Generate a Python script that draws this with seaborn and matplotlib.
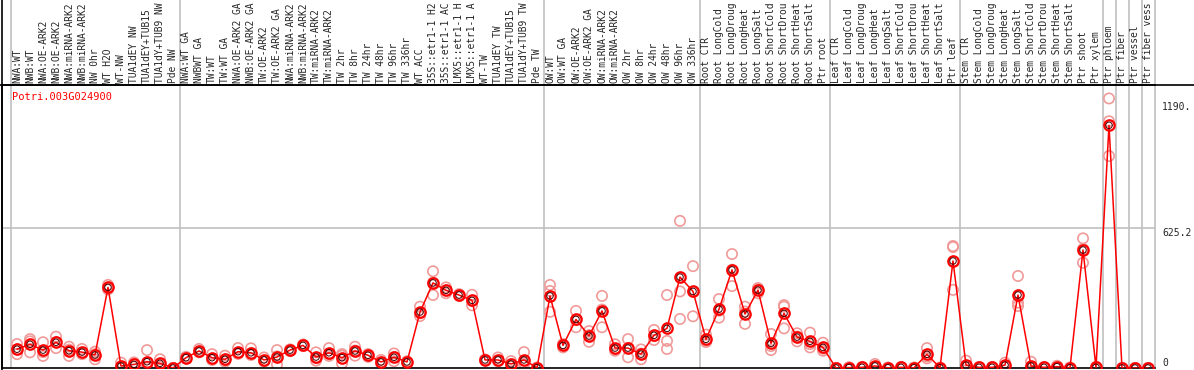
import pandas as pd
import matplotlib.pyplot as plt
import seaborn as sns
from matplotlib.lines import Line2D

gene = 'Potri.003G024900'

# sample labels as visible in the reference (long ones are cut at the top there)
samples = [
    'NWA:WT', 'NWB:WT', 'NWA:OE-ARK2', 'NWB:OE-ARK2', 'NWA:miRNA-ARK2', 'NWB:miRNA-ARK2',
    'NW 0hr', 'WT H2O', 'WT-NW', 'TUA1dEY NW', 'TUA1dEY+TUB15', 'TUA1dY+TUB9 NW', 'Pde NW',
    'NWA:WT GA', 'NWBWT GA', 'TW:WT', 'TW:WT GA', 'NWA:OE-ARK2 GA', 'NWB:OE-ARK2 GA',
    'TW:OE-ARK2', 'TW:OE-ARK2 GA', 'NWA:miRNA-ARK2', 'NWB:miRNA-ARK2', 'TW:miRNA-ARK2',
    'TW:miRNA-ARK2', 'TW 2hr', 'TW 8hr', 'TW 24hr', 'TW 48hr', 'TW 96hr', 'TW 336hr',
    'WT ACC', '35S::etr1-1 H2', '35S::etr1-1 AC', 'LMX5::etr1-1 H', 'LMX5::etr1-1 A',
    'WT-TW', 'TUA1dEY TW', 'TUA1dEY+TUB15', 'TUA1dY+TUB9 TW', 'Pde TW',
    'OW:WT', 'OW:WT GA', 'OW:OE-ARK2', 'OW:OE-ARK2 GA', 'OW:miRNA-ARK2', 'OW:miRNA-ARK2',
    'OW 2hr', 'OW 8hr', 'OW 24hr', 'OW 48hr', 'OW 96hr', 'OW 336hr',
    'Root CTR', 'Root LongCold', 'Root LongDroug', 'Root LongHeat', 'Root LongSalt',
    'Root ShortCold', 'Root ShortDrou', 'Root ShortHeat', 'Root ShortSalt', 'Ptr root',
    'Leaf CTR', 'Leaf LongCold', 'Leaf LongDroug', 'Leaf LongHeat', 'Leaf LongSalt',
    'Leaf ShortCold', 'Leaf ShortDrou', 'Leaf ShortHeat', 'Leaf ShortSalt', 'Ptr leaf',
    'Stem CTR', 'Stem LongCold', 'Stem LongDroug', 'Stem LongHeat', 'Stem LongSalt',
    'Stem ShortCold', 'Stem ShortDrou', 'Stem ShortHeat', 'Stem ShortSalt', 'Ptr shoot',
    'Ptr xylem', 'Ptr phloem', 'Ptr fiber', 'Ptr vessel', 'Ptr fiber vess',
]

mean_expr = [
    84, 106, 80, 115, 77, 71, 58, 360, 9, 16, 28, 21, 0,
    46, 76, 46, 39, 73, 68, 36, 49, 80, 101, 49, 68, 46, 76, 57, 27, 48, 27,
    250, 380, 347, 326, 302, 36, 36, 18, 36, 1,
    322, 101, 217, 143, 255, 89, 89, 62, 146, 177, 406, 342,
    128, 263, 438, 241, 348, 110, 244, 138, 119, 92,
    0, 2, 3, 9, 1, 3, 1, 61, 1, 478,
    13, 3, 3, 13, 326, 9, 3, 6, 1, 527,
    3, 1084, 0, 0, 0,
]

rep1 = [
    107, 129, 115, 140, 95, 85, 73, 371, 24, 25, 80, 39, 0,
    50, 85, 62, 55, 89, 88, 47, 80, 83, 105, 70, 89, 62, 95, 62, 36, 65, 30,
    274, 432, 360, 330, 327, 38, 47, 31, 71, 0,
    371, 92, 255, 165, 322, 106, 129, 83, 170, 326, 657, 455,
    149, 308, 509, 274, 357, 152, 281, 155, 158, 113,
    0, 3, 5, 18, 2, 5, 2, 89, 1, 545,
    33, 4, 5, 24, 411, 28, 5, 10, 1, 579,
    6, 1204, 0, 0, 0,
]

rep2 = [
    62, 70, 54, 89, 54, 62, 39, 351, 3, 6, 6, 6, 0,
    44, 70, 36, 33, 63, 58, 32, 15, 76, 98, 33, 54, 21, 55, 50, 20, 30, 24,
    232, 326, 334, 322, 280, 34, 31, 7, 15, 2,
    251, 104, 182, 117, 182, 77, 48, 39, 125, 121, 342, 231,
    119, 225, 366, 197, 334, 80, 177, 119, 92, 77,
    0, 1, 2, 5, 0, 2, 0, 43, 0, 540,
    3, 2, 2, 8, 292, 0, 2, 3, 0, 470,
    1, 1102, 0, 0, 0,
]

rep3 = [
    83, 119, 71, 116, 82, 66, 62, 358, 0, 17, 0, 18, 0,
    44, 73, 40, 29, 67, 66, 29, 52, 81, 100, 44, 61, 55, 78, 59, 25, 49, 27,
    244, 382, 346, 326, 299, 36, 30, 16, 22, 1,
    344, 107, 214, 147, 261, 84, 90, 64, 143, 85, 219, 340,
    116, 256, 439, 252, 353, 98, 274, 140, 107, 86,
    0, 2, 2, 4, 1, 2, 1, 51, 2, 349,
    3, 3, 2, 7, 277, 0, 2, 5, 2, 532,
    2, 947, 0, 0, 0,
]

group_edges = [-0.5, 12.5, 40.5, 52.5, 62.5, 72.5, 83.5, 84.5, 85.5, 86.5, 87.5]
ytick_vals = [0, 625.2, 1190]
ytick_text = ['0', '625.2', '1190.']

pos = list(range(len(samples)))
mean_df = pd.DataFrame({'pos': pos, 'expr': mean_expr})
rep_df = pd.DataFrame({'pos': pos * 3, 'expr': rep1 + rep2 + rep3})

sns.set_style('white')
plt.rcParams['font.family'] = ['DejaVu Sans Mono', 'DejaVu Sans']

W, H = 1194, 370
fig = plt.figure(figsize=(W / 100, H / 100), dpi=100)
ax = fig.add_axes([2 / W, 2 / H, (1155 - 2) / W, (368 - 85) / H])

# group separators run through the label strip too
for e in group_edges:
    ax.axvline(e, ymin=0, ymax=H / (368 - 85), color='#c0c0c0', lw=1.2, clip_on=False, zorder=0)
ax.axhline(625.2, color='#c0c0c0', lw=1.2, zorder=0)

sns.scatterplot(data=rep_df, x='pos', y='expr', ax=ax, marker='o', s=55,
                facecolor='none', edgecolor='#f09a9a', linewidth=1.2, zorder=2)
sns.lineplot(data=mean_df, x='pos', y='expr', ax=ax, estimator=None, sort=False,
             color='red', lw=1.1, marker='o', markersize=7.5, markerfacecolor='none',
             markeredgecolor='red', markeredgewidth=1.6, zorder=3)
sns.scatterplot(data=mean_df, x='pos', y='expr', ax=ax, marker='o', s=22,
                facecolor='none', edgecolor='#400000', linewidth=0.7, zorder=4)

ax.set_xlim((2 - 17) / 13, (1155 - 17) / 13)
ax.set_ylim(0, 1264)

ax.xaxis.tick_top()
ax.set_xticks(pos)
ax.set_xticklabels(samples, rotation=90, fontsize=6.9)
ax.tick_params(axis='x', length=0, pad=1.2)

ax.yaxis.tick_right()
ax.set_yticks(ytick_vals)
ax.set_yticklabels(ytick_text, fontsize=7)
ax.tick_params(axis='y', length=0, pad=5)
ylabs = ax.get_yticklabels()
ylabs[0].set_va('bottom')
for lab in ylabs[1:]:
    lab.set_va('top')

ax.set_xlabel('')
ax.set_ylabel('')
for side in ['left', 'bottom', 'top']:
    ax.spines[side].set_color('black')
    ax.spines[side].set_linewidth(1.2)
ax.spines['right'].set_visible(False)

fig.add_artist(Line2D([0, 1], [1 - 85 / H, 1 - 85 / H], color='black', lw=1.2))
fig.add_artist(Line2D([2 / W, 2 / W], [0, 1], color='black', lw=1.2))

fig.text(12 / W, 1 - 97 / H, gene, color='red', fontsize=7.5, ha='left', va='center')

fig.savefig('out.png', dpi=100)
